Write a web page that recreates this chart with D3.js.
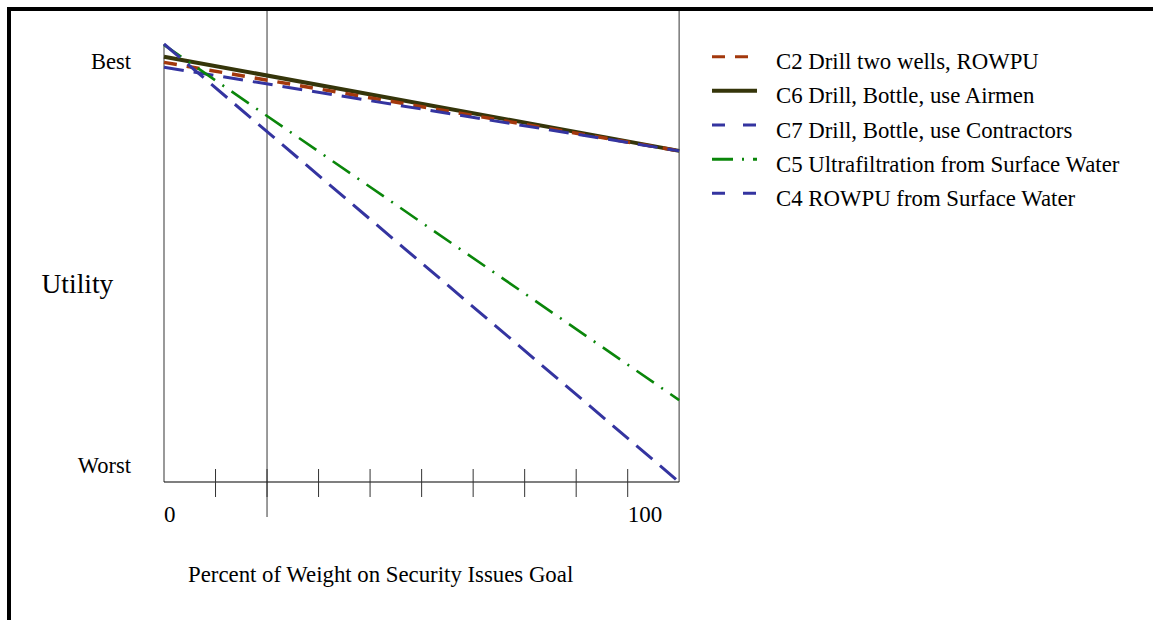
<!DOCTYPE html>
<html>
<head>
<meta charset="utf-8">
<script src="https://cdn.jsdelivr.net/npm/d3@7"></script>
<style>
  html, body { margin: 0; padding: 0; background: #fff; }
  svg { display: block; }
  text { font-family: "Liberation Serif", "Times New Roman", "DejaVu Serif", serif; fill: #000; }
</style>
</head>
<body>
<svg id="chart" width="1153" height="620"></svg>
<script>
// ---- data ----
const categories = [
  "C2 Drill two wells, ROWPU",
  "C6 Drill, Bottle, use Airmen",
  "C7 Drill, Bottle, use Contractors",
  "C5 Ultrafiltration from Surface Water",
  "C4 ROWPU from Surface Water"
];
// percent of weight on security goal at the two ends of the plotted range
const weights = [0, 111.1];
// utility (0 = Worst, 1 = Best) at each weight
const c2Values = [0.958, 0.756];
const c6Values = [0.971, 0.756];
const c7Values = [0.947, 0.756];
const c5Values = [0.998, 0.187];
const c4Values = [1.000, 0.000];
const seriesValues = [c2Values, c6Values, c7Values, c5Values, c4Values];
const xTickValues = [0, 11.11, 22.22, 33.33, 44.44, 55.56, 66.67, 77.78, 88.89, 100, 111.1];
const xTickLabels = [{v: 0, t: "0"}, {v: 100, t: "100"}];
const yTickLabels = [{v: 1, t: "Best"}, {v: 0, t: "Worst"}];
const currentWeight = 22.22;

// ---- styles ----
const colors = ["#a3380c", "#35350a", "#3434a0", "#0a860a", "#3434a0"];
const widths = [3.5, 4, 3, 2.6, 3];
const dashes = ["13,10", null, "20,10", "21,9,2,9", "21,10"];
const legendDashes = ["13,10", null, "13,18", "21,9,2,9", "13,18"];
const drawOrder = [1, 0, 2, 3, 4];

const svg = d3.select("#chart");

// frame
svg.append("rect").attr("x", 9).attr("y", 9).attr("width", 1300).attr("height", 800)
  .attr("fill", "none").attr("stroke", "#000").attr("stroke-width", 4);

const x = d3.scaleLinear().domain([0, 100]).range([164, 627.7]);
const y = d3.scaleLinear().domain([0, 1]).range([482, 44]);
const xEnd = x(weights[1]);

// gray verticals
svg.append("line").attr("x1", x(0)).attr("x2", x(0)).attr("y1", y(1)).attr("y2", y(0))
  .attr("stroke", "#808080").attr("stroke-width", 1.6);
svg.append("line").attr("x1", xEnd).attr("x2", xEnd).attr("y1", 11).attr("y2", y(0))
  .attr("stroke", "#808080").attr("stroke-width", 1.6);
svg.append("line").attr("x1", x(currentWeight)).attr("x2", x(currentWeight)).attr("y1", 11).attr("y2", 517)
  .attr("stroke", "#707070").attr("stroke-width", 1.4);

// x axis
const xAxis = d3.axisBottom(x).tickValues(xTickValues.slice(1, -1)).tickSize(0).tickFormat("");
const gx = svg.append("g").attr("transform", `translate(0,${y(0)})`).call(xAxis);
gx.select(".domain").remove();
svg.append("line").attr("x1", x(0)).attr("x2", xEnd).attr("y1", y(0)).attr("y2", y(0))
  .attr("stroke", "#000").attr("stroke-width", 1.2);
svg.append("g").selectAll("line").data(xTickValues.slice(1, -1)).join("line")
  .attr("x1", d => x(d)).attr("x2", d => x(d))
  .attr("y1", y(0) - 13).attr("y2", y(0) + 15)
  .attr("stroke", "#333").attr("stroke-width", 1);

svg.append("g").selectAll("text").data(xTickLabels).join("text")
  .attr("x", d => x(d.v)).attr("y", 521.5)
  .attr("font-size", 23).attr("text-anchor", "start")
  .text(d => d.t);

// y labels
svg.append("g").selectAll("text").data(yTickLabels).join("text")
  .attr("x", 131).attr("y", d => d.v === 1 ? y(d.v) + 25 : y(d.v) - 9.5)
  .attr("font-size", 22.5).attr("text-anchor", "end")
  .text(d => d.t);

svg.append("text").attr("x", 41.5).attr("y", 293).attr("font-size", 27.5).text("Utility");
svg.append("text").attr("x", 188).attr("y", 582).attr("font-size", 22.8)
  .text("Percent of Weight on Security Issues Goal");

// series lines
const line = d3.line().x((d, i) => x(weights[i])).y(d => y(d));
svg.append("g").selectAll("path").data(drawOrder).join("path")
  .attr("d", i => line(seriesValues[i]))
  .attr("fill", "none")
  .attr("stroke", i => colors[i])
  .attr("stroke-width", i => widths[i])
  .attr("stroke-dasharray", i => dashes[i]);

// legend
const lg = svg.append("g");
const rowY = i => 56.7 + i * 34.15;
lg.selectAll("line").data(categories).join("line")
  .attr("x1", 712).attr("x2", 757)
  .attr("y1", (d, i) => rowY(i)).attr("y2", (d, i) => rowY(i))
  .attr("stroke", (d, i) => colors[i])
  .attr("stroke-width", (d, i) => i === 1 ? 4 : 3)
  .attr("stroke-dasharray", (d, i) => legendDashes[i]);
lg.selectAll("text").data(categories).join("text")
  .attr("x", 776).attr("y", (d, i) => rowY(i) + 12.6)
  .attr("font-size", 22.8)
  .text(d => d);
</script>
</body>
</html>
